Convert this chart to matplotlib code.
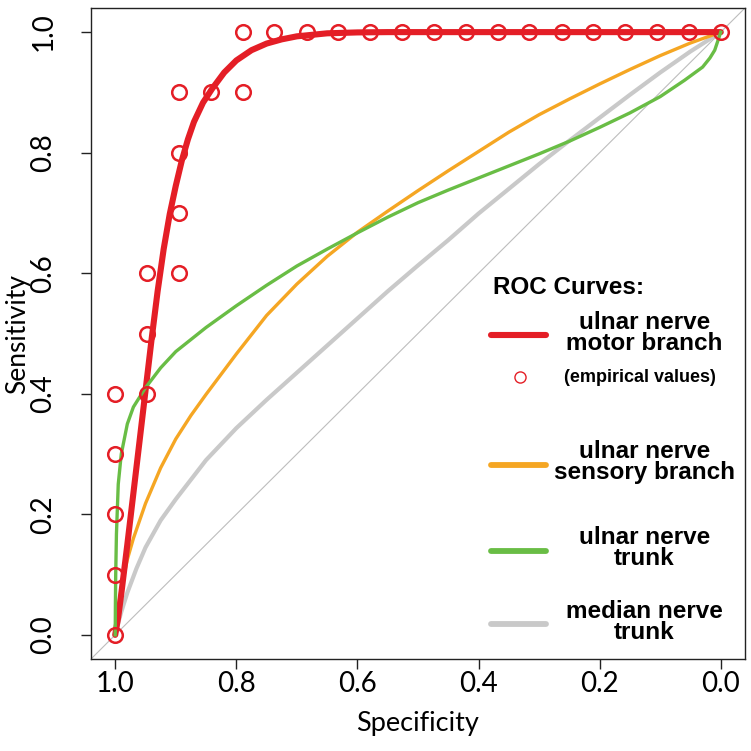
import matplotlib
matplotlib.use("Agg")
import matplotlib.pyplot as plt

# ---------------- data ----------------
# empirical ROC points of the ulnar nerve motor branch (specificity, sensitivity)
emp_spec = [1.0, 1.0, 1.0, 1.0, 1.0, 0.947, 0.947, 0.947, 0.895, 0.895, 0.895, 0.895,
            0.842, 0.789, 0.789, 0.737, 0.684, 0.632, 0.579, 0.526, 0.474, 0.421,
            0.368, 0.316, 0.263, 0.211, 0.158, 0.105, 0.053, 0.0]
emp_sens = [0.0, 0.1, 0.2, 0.3, 0.4, 0.4, 0.5, 0.6, 0.6, 0.7, 0.8, 0.9,
            0.9, 0.9, 1.0, 1.0, 1.0, 1.0, 1.0, 1.0, 1.0, 1.0,
            1.0, 1.0, 1.0, 1.0, 1.0, 1.0, 1.0, 1.0]

# smoothed ROC curves (specificity, sensitivity)
motor_spec = [1.0, 0.995, 0.99, 0.98, 0.97, 0.96, 0.95, 0.94, 0.93, 0.92, 0.91, 0.90,
              0.89, 0.88, 0.87, 0.855, 0.84, 0.82, 0.80, 0.775, 0.75, 0.725, 0.70,
              0.65, 0.60, 0.55, 0.40, 0.20, 0.0]
motor_sens = [0.0, 0.03, 0.068, 0.15, 0.235, 0.32, 0.405, 0.49, 0.57, 0.64, 0.698, 0.745,
              0.787, 0.822, 0.851, 0.883, 0.906, 0.933, 0.953, 0.97, 0.981, 0.988, 0.993,
              0.998, 0.9995, 1.0, 1.0, 1.0, 1.0]

sensory_spec = [1.0, 0.995, 0.99, 0.98, 0.97, 0.95, 0.925, 0.90, 0.875, 0.85, 0.80, 0.75,
                0.70, 0.65, 0.60, 0.55, 0.50, 0.45, 0.40, 0.35, 0.30, 0.25, 0.20, 0.15,
                0.10, 0.05, 0.0]
sensory_sens = [0.0, 0.045, 0.078, 0.125, 0.16, 0.218, 0.277, 0.325, 0.364, 0.399, 0.466,
                0.530, 0.582, 0.628, 0.668, 0.703, 0.737, 0.770, 0.802, 0.834, 0.863,
                0.889, 0.914, 0.938, 0.961, 0.982, 1.0]

ulnar_trunk_spec = [1.0, 0.9997, 0.9992, 0.998, 0.995, 0.99, 0.98, 0.97, 0.95, 0.925,
                    0.90, 0.85, 0.80, 0.75, 0.70, 0.65, 0.60, 0.55, 0.50, 0.45, 0.40,
                    0.35, 0.30, 0.25, 0.20, 0.15, 0.10, 0.06, 0.03, 0.018, 0.01, 0.005,
                    0.0]
ulnar_trunk_sens = [0.0, 0.05, 0.10, 0.167, 0.25, 0.30, 0.35, 0.378, 0.41, 0.443,
                    0.47, 0.51, 0.546, 0.58, 0.612, 0.64, 0.667, 0.693, 0.717, 0.738,
                    0.758, 0.778, 0.798, 0.819, 0.842, 0.866, 0.893, 0.92, 0.942, 0.957,
                    0.97, 0.985, 1.0]

median_trunk_spec = [1.0, 0.995, 0.99, 0.98, 0.965, 0.95, 0.925, 0.90, 0.85, 0.80, 0.75,
                     0.70, 0.65, 0.60, 0.55, 0.50, 0.45, 0.40, 0.35, 0.30, 0.25, 0.20,
                     0.15, 0.10, 0.05, 0.0]
median_trunk_sens = [0.0, 0.02, 0.038, 0.07, 0.11, 0.145, 0.19, 0.225, 0.29, 0.343, 0.39,
                     0.435, 0.48, 0.525, 0.57, 0.613, 0.655, 0.699, 0.74, 0.781, 0.82,
                     0.858, 0.896, 0.933, 0.968, 1.0]

ticks = [0.0, 0.2, 0.4, 0.6, 0.8, 1.0]
tick_labels = ["0.0", "0.2", "0.4", "0.6", "0.8", "1.0"]

legend_title = "ROC Curves:"
legend_labels = ["ulnar nerve\nmotor branch", "ulnar nerve\nsensory branch",
                 "ulnar nerve\ntrunk", "median nerve\ntrunk"]
emp_label = "(empirical values)"

# ---------------- styling ----------------
RED = "#E41E26"
ORANGE = "#F5A623"
GREEN = "#69BD45"
GRAY = "#C9C9C9"

fig = plt.figure(figsize=(7.51, 7.51), dpi=100)
W = H = 751
ax = fig.add_axes([91 / W, (H - 659) / H, 654 / W, 651 / H])

ax.plot([1.04, -0.04], [-0.04, 1.04], color="#BDBDBD", lw=0.8, zorder=1)
ax.plot(median_trunk_spec, median_trunk_sens, color=GRAY, lw=3.0, zorder=2,
        solid_capstyle="round", solid_joinstyle="round")
ax.plot(sensory_spec, sensory_sens, color=ORANGE, lw=2.4, zorder=3,
        solid_joinstyle="round")
ax.plot(motor_spec, motor_sens, color=RED, lw=4.4, zorder=4, solid_capstyle="round",
        solid_joinstyle="round")
ax.plot(ulnar_trunk_spec, ulnar_trunk_sens, color=GREEN, lw=2.4, zorder=5,
        solid_joinstyle="round")
ax.plot(emp_spec, emp_sens, linestyle="none", marker="o", markersize=10.5,
        markerfacecolor="none", markeredgecolor=RED, markeredgewidth=1.8, zorder=6)

ax.set_xlim(1.04, -0.04)
ax.set_ylim(-0.04, 1.04)
ax.set_xticks(ticks)
ax.set_xticklabels(tick_labels)
ax.set_yticks(ticks)
ax.set_yticklabels(tick_labels, rotation=90, va="center")

for lab in ax.get_xticklabels() + ax.get_yticklabels():
    lab.set_fontfamily("Lato")
    lab.set_fontsize(20)
ax.tick_params(axis="both", direction="out", length=7, width=1, colors="#222222",
               labelcolor="black")
ax.tick_params(axis="x", pad=1.5)
ax.tick_params(axis="y", pad=18)
for s in ax.spines.values():
    s.set_linewidth(1.0)
    s.set_color("#222222")

ax.set_xlabel("Specificity", fontfamily="Lato", fontsize=19.5, labelpad=10)
ax.set_ylabel("Sensitivity", fontfamily="Lato", fontsize=19, labelpad=0)

# ---------------- legend (manual, R-style) ----------------
tr = ax.transAxes
lfont = dict(family="Liberation Sans", weight="bold", size=17.5, color="black")
ax.text(0.615, 0.571, legend_title, transform=tr, ha="left", va="center", **lfont)

line_x = [0.612, 0.696]
rows_y = [0.501, 0.302, 0.170, 0.057]
colors = [RED, ORANGE, GREEN, GRAY]
widths = [4.4, 4.2, 4.2, 4.2]
for lab, yy, c, w in zip(legend_labels, rows_y, colors, widths):
    ax.plot(line_x, [yy - 0.004, yy - 0.004], color=c, lw=w, transform=tr,
            solid_capstyle="round", clip_on=False, zorder=7)
    ax.text(0.846, yy, lab, transform=tr, ha="center", va="center",
            linespacing=0.9, multialignment="center", **lfont)

ax.plot([0.656], [0.433], transform=tr, marker="o", markersize=8,
        markerfacecolor="none", markeredgecolor=RED, markeredgewidth=1.0,
        linestyle="none", zorder=7)
ax.text(0.839, 0.433, emp_label, transform=tr, ha="center", va="center",
        family="Liberation Sans", weight="bold", size=13, color="black")

fig.savefig("out.png", dpi=100)
